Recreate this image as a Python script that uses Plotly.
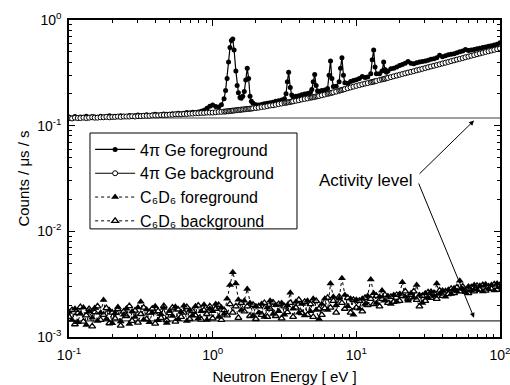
import math
import plotly.graph_objects as go

# ---------------- data ----------------
# 4pi Ge energies (eV)
E_GE = [0.100,0.105,0.110,0.115,0.120,0.126,0.132,0.138,0.145,0.151,0.158,0.166,0.174,0.182,0.191,
        0.200,0.209,0.219,0.229,0.240,0.251,0.263,0.275,0.288,0.302,0.316,0.331,0.347,0.363,0.380,
        0.398,0.417,0.437,0.457,0.479,0.501,0.525,0.550,0.575,0.603,0.631,0.661,0.692,0.724,0.759,
        0.794,0.832,0.871,0.912,0.955,
        1.00,1.05,1.10,1.15,1.20,1.23,1.26,1.29,1.32,1.35,1.38,1.41,1.45,1.48,1.51,1.55,1.58,1.62,
        1.66,1.70,1.74,1.78,1.82,1.86,1.91,2.00,2.09,2.19,2.29,2.40,2.51,2.63,2.75,2.88,3.02,3.16,
        3.24,3.31,3.38,3.47,3.55,3.63,3.80,3.98,4.17,4.37,4.57,4.79,4.90,5.01,5.13,5.25,5.37,5.50,
        5.75,6.03,6.31,6.46,6.61,6.76,6.92,7.24,7.59,7.76,7.94,8.13,8.32,8.71,9.12,9.55,
        10.0,10.5,11.0,11.5,12.0,12.6,12.9,13.2,13.5,13.8,14.5,15.1,15.5,15.8,16.2,16.6,17.4,18.2,
        19.1,20.0,20.9,21.9,22.9,24.0,25.1,26.3,27.5,28.8,30.2,31.6,33.1,34.7,36.3,38.0,39.8,41.7,
        43.7,45.7,47.9,50.1,52.5,55.0,57.5,60.3,63.1,66.1,69.2,72.4,75.9,79.4,83.2,87.1,91.2,95.5,100.0]

GE_FG = [0.121,0.118,0.122,0.119,0.121,0.120,0.123,0.119,0.122,0.121,0.120,0.123,0.121,0.122,0.124,
         0.121,0.123,0.122,0.124,0.123,0.122,0.125,0.123,0.124,0.126,0.124,0.125,0.127,0.125,0.126,
         0.128,0.126,0.127,0.129,0.128,0.128,0.130,0.129,0.131,0.130,0.131,0.133,0.132,0.134,0.133,
         0.135,0.137,0.140,0.146,0.153,
         0.157,0.152,0.150,0.158,0.180,0.215,0.28,0.40,0.55,0.64,0.66,0.52,0.33,0.24,0.205,0.185,
         0.182,0.19,0.21,0.27,0.35,0.28,0.19,0.17,0.163,0.158,0.157,0.159,0.161,0.163,0.165,0.167,
         0.170,0.172,0.175,0.180,0.20,0.26,0.32,0.23,0.195,0.188,0.190,0.192,0.196,0.199,0.202,0.206,
         0.22,0.26,0.305,0.24,0.213,0.212,0.215,0.218,0.225,0.30,0.41,0.28,0.235,0.236,0.26,0.35,
         0.44,0.30,0.255,0.250,0.262,0.268,
         0.272,0.280,0.292,0.285,0.288,0.31,0.42,0.52,0.36,0.31,0.31,0.33,0.40,0.34,0.32,0.33,0.345,
         0.35,0.36,0.372,0.38,0.39,0.405,0.39,0.385,0.395,0.40,0.404,0.41,0.415,0.425,0.43,0.44,0.465,
         0.45,0.46,0.47,0.475,0.48,0.49,0.50,0.51,0.525,0.515,0.52,0.525,0.535,0.54,0.55,0.555,0.565,
         0.57,0.58,0.59,0.61]

GE_BG = [0.118,0.117,0.119,0.118,0.118,0.119,0.118,0.119,0.120,0.119,0.119,0.120,0.120,0.121,0.120,
         0.121,0.121,0.122,0.121,0.122,0.122,0.122,0.123,0.122,0.123,0.123,0.124,0.124,0.124,0.125,
         0.125,0.125,0.126,0.126,0.126,0.127,0.127,0.128,0.128,0.128,0.129,0.129,0.130,0.130,0.131,
         0.131,0.132,0.132,0.133,0.133,
         0.133,0.134,0.135,0.135,0.136,0.136,0.137,0.137,0.138,0.138,0.139,0.139,0.140,0.140,0.141,
         0.141,0.142,0.142,0.143,0.143,0.144,0.144,0.145,0.145,0.146,0.147,0.148,0.150,0.151,0.153,
         0.155,0.156,0.158,0.160,0.162,0.164,0.165,0.166,0.167,0.168,0.169,0.170,0.172,0.174,0.177,
         0.179,0.181,0.184,0.185,0.186,0.187,0.189,0.190,0.191,0.194,0.197,0.200,0.202,0.203,0.205,
         0.207,0.210,0.214,0.216,0.218,0.220,0.222,0.226,0.230,0.234,
         0.238,0.242,0.246,0.250,0.253,0.257,0.259,0.261,0.263,0.265,0.270,0.274,0.276,0.278,0.281,
         0.283,0.288,0.293,0.298,0.303,0.308,0.313,0.318,0.323,0.328,0.334,0.339,0.345,0.351,0.357,
         0.363,0.369,0.375,0.381,0.388,0.394,0.401,0.408,0.415,0.422,0.429,0.436,0.444,0.451,0.459,
         0.466,0.474,0.482,0.490,0.498,0.506,0.514,0.522,0.530,0.538]

# C6D6 energies (eV)
E_C6 = [0.100,0.105,0.110,0.115,0.120,0.126,0.132,0.138,0.145,0.151,0.158,0.166,0.174,0.182,0.191,
        0.200,0.209,0.219,0.229,0.240,0.251,0.263,0.275,0.288,0.302,0.316,0.331,0.347,0.363,0.380,
        0.398,0.417,0.437,0.457,0.479,0.501,0.525,0.550,0.575,0.603,0.631,0.661,0.692,0.724,0.759,
        0.794,0.832,0.871,0.912,0.955,
        1.00,1.05,1.10,1.15,1.20,1.26,1.32,1.38,1.45,1.51,1.58,1.66,1.74,1.82,1.91,2.00,2.09,2.19,
        2.29,2.40,2.51,2.63,2.75,2.88,3.02,3.16,3.31,3.47,3.63,3.80,3.98,4.17,4.37,4.57,4.79,5.01,
        5.25,5.50,5.75,6.03,6.31,6.61,6.92,7.24,7.59,7.94,8.32,8.71,9.12,9.55,
        10.0,10.5,11.0,11.5,12.0,12.6,13.2,13.8,14.5,15.1,15.8,16.6,17.4,18.2,19.1,20.0,20.9,21.9,
        22.9,24.0,25.1,26.3,27.5,28.8,30.2,31.6,33.1,34.7,36.3,38.0,39.8,41.7,43.7,45.7,47.9,50.1,
        52.5,55.0,57.5,60.3,63.1,66.1,69.2,72.4,75.9,79.4,83.2,87.1,91.2,95.5,100.0]

# C6D6 counts, in units of 1e-3 counts/us/s
C6_FG_MILLI = [1.72,1.45,1.85,1.38,1.66,1.90,1.30,1.75,1.52,1.88,1.42,1.70,2.24,1.48,1.80,1.35,1.68,
               1.92,1.40,1.62,1.86,1.33,1.74,1.55,1.90,2.16,1.46,1.82,1.38,1.70,1.95,1.44,1.64,1.88,
               1.36,1.76,1.58,1.93,1.47,1.72,1.98,1.42,1.80,1.60,1.95,1.50,1.75,2.02,1.45,1.85,
               1.75,2.05,1.55,1.90,1.65,2.30,3.10,4.10,3.20,2.25,1.80,2.20,2.85,2.10,1.60,1.95,1.70,
               2.05,1.55,1.90,2.20,1.65,2.00,1.75,2.10,1.62,2.00,2.62,1.85,2.15,1.70,2.05,1.60,2.20,
               1.75,2.30,1.80,1.48,2.05,2.30,1.80,3.20,2.40,2.00,2.30,3.60,2.50,1.95,2.30,1.62,
               2.25,1.85,2.30,2.05,2.45,3.50,2.60,2.10,2.40,2.75,2.20,2.45,2.05,2.50,2.15,2.55,3.30,
               2.40,2.20,2.60,2.35,3.10,2.50,2.10,2.60,2.35,2.70,2.45,3.20,2.55,2.75,2.40,2.80,2.55,
               2.90,2.70,3.40,2.85,2.65,3.00,2.75,3.10,2.80,3.05,2.70,3.15,2.85,3.10,2.75,3.20,2.95]

C6_BG_MILLI = [1.55,1.80,1.32,1.68,1.92,1.40,1.60,1.84,1.26,1.72,1.95,1.45,1.62,1.88,1.35,1.70,1.50,
               1.83,1.28,1.74,1.58,1.96,1.42,1.78,1.37,1.65,1.90,1.48,1.70,1.85,1.34,1.76,1.52,1.96,
               1.44,1.68,1.90,1.40,1.82,1.55,1.70,1.92,1.48,1.76,1.60,1.98,1.46,1.80,1.65,1.95,
               1.50,1.85,2.00,1.45,1.80,1.60,2.05,1.70,1.95,1.52,2.10,1.75,1.95,1.58,2.02,1.48,1.95,
               1.62,2.10,1.55,1.85,2.12,1.58,2.05,1.50,1.95,1.72,2.10,1.55,1.90,2.25,1.68,2.15,1.62,
               2.05,1.55,2.20,1.85,1.62,1.88,2.35,1.90,2.20,1.70,2.40,2.10,1.85,2.35,1.70,2.25,
               1.90,2.20,1.75,2.35,2.00,2.30,2.05,2.45,1.95,2.30,2.50,2.10,2.40,2.15,2.50,2.20,2.45,
               2.70,2.30,2.50,2.70,2.25,1.95,2.45,2.20,2.65,2.35,2.60,2.30,2.75,2.45,2.70,2.55,2.85,
               2.60,2.95,2.70,3.00,2.75,2.60,2.95,2.70,3.05,2.80,3.10,2.75,3.00,2.85,3.15,2.80,3.10]

GE_ACTIVITY = 0.118
C6_ACTIVITY = 0.00142

X_TICKS = [0.1, 1, 10, 100]
X_TICKTEXT = ["10<sup>-1</sup>", "10<sup>0</sup>", "10<sup>1</sup>", "10<sup>2</sup>"]
Y_TICKS = [0.001, 0.01, 0.1, 1]
Y_TICKTEXT = ["10<sup>-3</sup>", "10<sup>-2</sup>", "10<sup>-1</sup>", "10<sup>0</sup>"]

NAMES = ["4π Ge foreground", "4π Ge background", "C₆D₆ foreground", "C₆D₆ background"]

# ---------------- figure ----------------
FONT = "Liberation Sans, Arial, sans-serif"
fig = go.Figure()

# activity levels
fig.add_trace(go.Scatter(x=[E_GE[0], E_GE[-1]], y=[GE_ACTIVITY, GE_ACTIVITY], mode="lines",
                         line=dict(color="#808080", width=1.5), showlegend=False, hoverinfo="skip"))
fig.add_trace(go.Scatter(x=[E_C6[0], E_C6[-1]], y=[C6_ACTIVITY, C6_ACTIVITY], mode="lines",
                         line=dict(color="black", width=1), showlegend=False, hoverinfo="skip"))

c6_fg = [v * 1e-3 for v in C6_FG_MILLI]
c6_bg = [v * 1e-3 for v in C6_BG_MILLI]

fig.add_trace(go.Scatter(x=E_GE, y=GE_FG, name=NAMES[0], mode="lines+markers", legendrank=1,
                         line=dict(color="black", width=1.2),
                         marker=dict(symbol="circle", size=5, color="black")))
fig.add_trace(go.Scatter(x=E_GE, y=GE_BG, name=NAMES[1], mode="lines+markers", legendrank=2,
                         line=dict(color="black", width=1.2),
                         marker=dict(symbol="circle", size=5, color="white",
                                     line=dict(color="black", width=1))))
fig.add_trace(go.Scatter(x=E_C6, y=c6_bg, name=NAMES[3], mode="lines+markers", legendrank=4,
                         line=dict(color="black", width=1, dash="dot"),
                         marker=dict(symbol="triangle-up", size=6, color="white",
                                     line=dict(color="black", width=1.3))))
fig.add_trace(go.Scatter(x=E_C6, y=c6_fg, name=NAMES[2], mode="lines+markers", legendrank=3,
                         line=dict(color="black", width=1, dash="dot"),
                         marker=dict(symbol="triangle-up", size=7, color="black")))

minor_x = [m * 10 ** d for d in range(-1, 2) for m in range(2, 10)]
minor_y = [m * 10 ** d for d in range(-3, 0) for m in range(2, 10)]

axis_common = dict(type="log", showgrid=False, zeroline=False, showline=True,
                   linecolor="black", linewidth=1.5, mirror="ticks", ticks="inside",
                   ticklen=6, tickwidth=1, tickcolor="black", ticklabeloverflow="allow",
                   tickfont=dict(family=FONT, size=14, color="black"))

fig.update_xaxes(range=[-1, 2], tickmode="array", tickvals=X_TICKS, ticktext=X_TICKTEXT,
                 minor=dict(tickmode="array", tickvals=minor_x, ticks="inside", ticklen=3,
                            tickcolor="black", showgrid=False),
                 ticklabelstandoff=4,
                 title=dict(text="Neutron Energy [ eV ]", font=dict(family=FONT, size=15, color="black"),
                            standoff=14),
                 **axis_common)
fig.update_yaxes(range=[-3, 0], tickmode="array", tickvals=Y_TICKS, ticktext=Y_TICKTEXT,
                 minor=dict(tickmode="array", tickvals=minor_y, ticks="inside", ticklen=3,
                            tickcolor="black", showgrid=False),
                 ticklabelstandoff=3,
                 title=dict(text="Counts / μs / s", font=dict(family=FONT, size=15, color="black"),
                            standoff=4),
                 **axis_common)

# legend frame
fig.add_shape(type="rect", xref="paper", yref="paper", x0=0.0487, x1=0.529, y0=0.341, y1=0.6435,
              line=dict(color="black", width=1), fillcolor="rgba(0,0,0,0)", layer="above")

# annotations
fig.add_annotation(xref="paper", yref="paper", x=0.688, y=0.495, xanchor="center", yanchor="middle",
                   text="Activity level", showarrow=False,
                   font=dict(family=FONT, size=17, color="black"))
fig.add_annotation(x=math.log10(66.0), y=math.log10(0.112), ax=math.log10(26.9), ay=math.log10(0.034),
                   axref="x", ayref="y", xref="x", yref="y", text="", showarrow=True,
                   arrowhead=2, arrowsize=1, arrowwidth=1, arrowcolor="black")
fig.add_annotation(x=math.log10(66.0), y=math.log10(0.00152), ax=math.log10(26.9), ay=math.log10(0.0293),
                   axref="x", ayref="y", xref="x", yref="y", text="", showarrow=True,
                   arrowhead=2, arrowsize=1, arrowwidth=1, arrowcolor="black")

fig.update_layout(
    width=510, height=385,
    margin=dict(l=69, r=10, t=20, b=48, autoexpand=False),
    paper_bgcolor="white", plot_bgcolor="white",
    font=dict(family=FONT, size=14, color="black"),
    showlegend=True,
    legend=dict(x=0.049, y=0.645, xanchor="left", yanchor="top",
                bgcolor="rgba(0,0,0,0)", borderwidth=0,
                font=dict(family=FONT, size=16, color="black"),
                traceorder="normal", tracegroupgap=0, itemwidth=40),
)

fig.write_html("out.html")
